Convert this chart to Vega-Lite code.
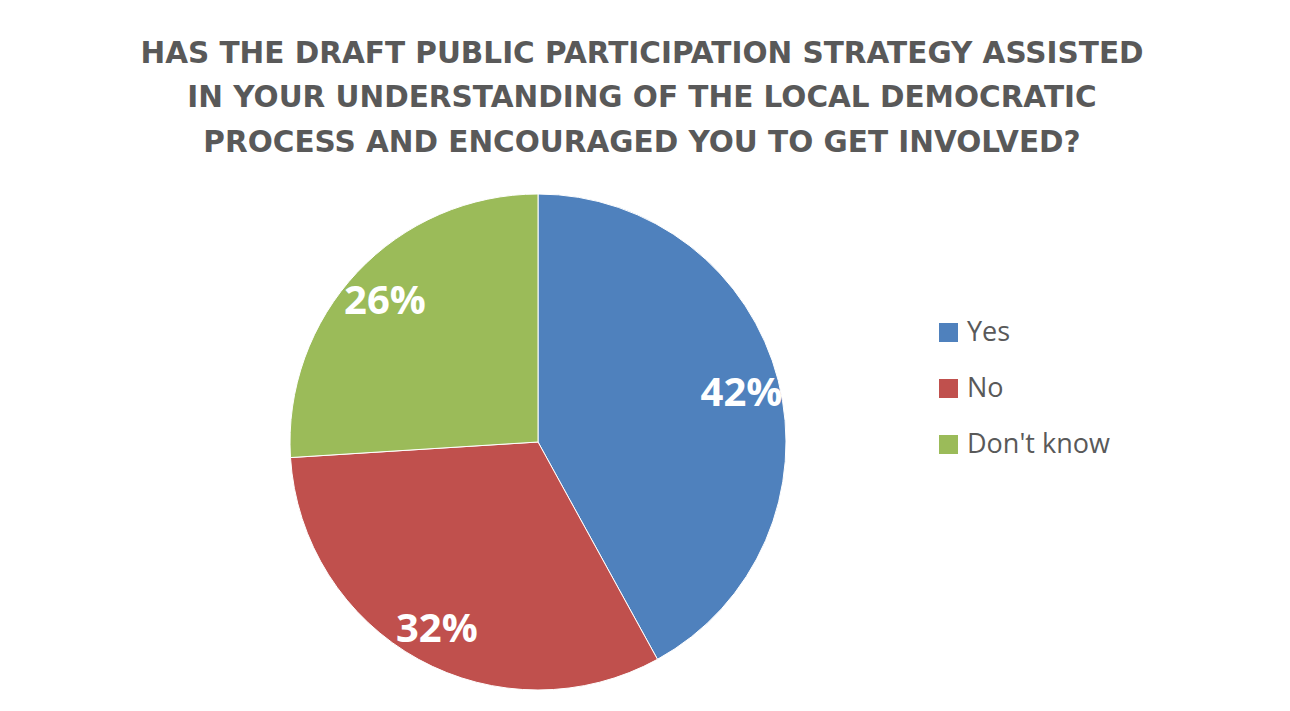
{
  "$schema": "https://vega.github.io/schema/vega-lite/v6.json",
  "width": 496,
  "height": 496,
  "autosize": {"type": "none"},
  "padding": {"left": 290, "top": 194, "right": 504, "bottom": 21},
  "background": "white",
  "title": {
    "text": ["HAS THE DRAFT PUBLIC PARTICIPATION STRATEGY ASSISTED", "IN YOUR UNDERSTANDING OF THE LOCAL DEMOCRATIC", "PROCESS AND ENCOURAGED YOU TO GET INVOLVED?"],
    "anchor": "middle",
    "frame": "group",
    "dx": 104,
    "offset": 34,
    "font": "DejaVu Sans",
    "fontSize": 29.5,
    "fontWeight": "bold",
    "color": "#595959",
    "lineHeight": 44.5
  },
  "data": {
    "values": [
      {"answer": "Yes", "pct": 42, "rank": 1, "label": "42%"},
      {"answer": "No", "pct": 32, "rank": 2, "label": "32%"},
      {"answer": "Don't know", "pct": 26, "rank": 3, "label": "26%"}
    ]
  },
  "encoding": {
    "theta": {"field": "pct", "type": "quantitative", "stack": true},
    "order": {"field": "rank", "type": "quantitative"}
  },
  "layer": [
    {
      "mark": {"type": "arc", "outerRadius": 248, "stroke": "white", "strokeWidth": 1},
      "encoding": {
        "color": {
          "field": "answer",
          "type": "nominal",
          "scale": {"domain": ["Yes", "No", "Don't know"], "range": ["#4F81BD", "#C0504D", "#9BBB59"]},
          "legend": {
            "title": null,
            "orient": "none",
            "legendX": 645,
            "legendY": 125,
            "symbolType": "square",
            "symbolSize": 360,
            "symbolStrokeWidth": 0,
            "labelFont": "Open Sans",
            "labelFontSize": 27,
            "labelColor": "#595959",
            "labelOffset": 5,
            "rowPadding": 28
          }
        }
      }
    },
    {
      "mark": {"type": "text", "radius": 210, "dy": 4, "font": "Open Sans", "fontSize": 40, "fontWeight": "bold", "color": "white", "align": "center", "baseline": "middle"},
      "encoding": {
        "text": {"field": "label", "type": "nominal"}
      }
    }
  ],
  "config": {"view": {"stroke": null}}
}
